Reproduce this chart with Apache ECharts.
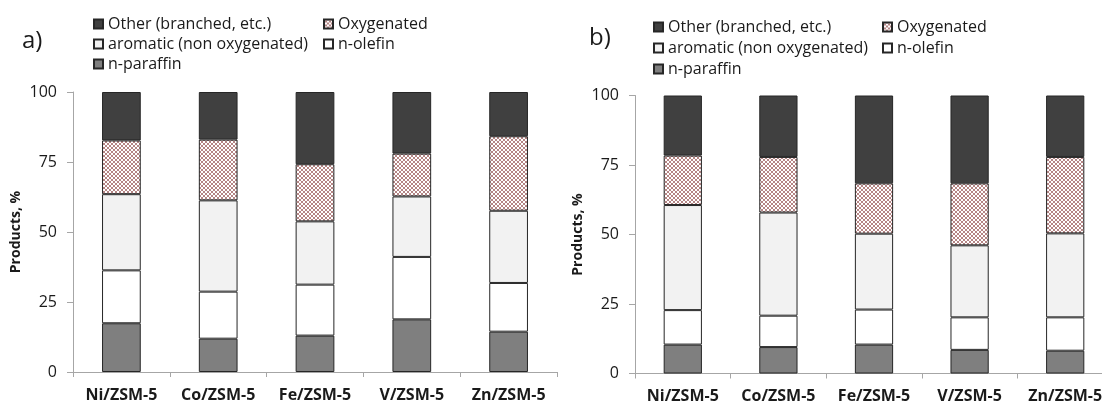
<!DOCTYPE html>
<html>
<head>
<meta charset="utf-8">
<script src="https://cdn.jsdelivr.net/npm/echarts@6/dist/echarts.min.js"></script>
<style>
html,body{margin:0;padding:0;background:#fff;overflow:hidden;width:1102px;height:403px;}
#chart{width:1130px;height:403px;}
</style>
</head>
<body>
<div id="chart"></div>
<script>
// ---- data ----
var categories = ['Ni/ZSM-5', 'Co/ZSM-5', 'Fe/ZSM-5', 'V/ZSM-5', 'Zn/ZSM-5'];
var yTicks = [0, 25, 50, 75, 100];
var seriesNames = ['n-paraffin', 'n-olefin', 'aromatic (non oxygenated)', 'Oxygenated', 'Other (branched, etc.)'];

// panel a)
var a_paraffin   = [17.4, 11.9, 13.0, 18.8, 14.4];
var a_olefin     = [18.9, 16.8, 18.2, 22.3, 17.4];
var a_aromatic   = [27.2, 32.6, 22.6, 21.6, 25.8];
var a_oxygenated = [19.2, 21.7, 20.4, 15.3, 26.6];
var a_other      = [17.3, 17.0, 25.8, 22.0, 15.8];

// panel b)
var b_paraffin   = [10.4, 9.5, 10.4, 8.5, 8.2];
var b_olefin     = [12.4, 11.3, 12.6, 11.7, 12.0];
var b_aromatic   = [37.8, 37.1, 27.3, 25.9, 30.2];
var b_oxygenated = [17.8, 20.0, 18.1, 22.3, 27.5];
var b_other      = [21.6, 22.1, 31.6, 31.6, 22.1];

// ---- crosshatch pattern ----
function makePattern() {
  var c = document.createElement('canvas');
  c.width = 4; c.height = 4;
  var ctx = c.getContext('2d');
  ctx.fillStyle = '#ffffff';
  ctx.fillRect(0, 0, 4, 4);
  ctx.fillStyle = '#b58585';
  var pts = [[0,0],[1,1],[2,2],[3,3],[3,0],[2,1],[1,2],[0,3]];
  pts.forEach(function (p) { ctx.fillRect(p[0], p[1], 1, 1); });
  return { image: c, repeat: 'repeat' };
}
var pattern = makePattern();

var fills = {
  'n-paraffin': '#7f7f7f',
  'n-olefin': '#ffffff',
  'aromatic (non oxygenated)': '#f2f2f2',
  'Oxygenated': pattern,
  'Other (branched, etc.)': '#404040'
};

var font = '"Open Sans", "DejaVu Sans", sans-serif';
var txt = '#1a1a1a';
var axisGrey = '#a6a6a6';

function mkSeries(panel, arrays) {
  return seriesNames.map(function (n, i) {
    return {
      name: n,
      type: 'bar',
      stack: 'p' + panel,
      xAxisIndex: panel,
      yAxisIndex: panel,
      barWidth: '40%',
      data: arrays[i],
      itemStyle: { color: fills[n], borderColor: '#262626', borderWidth: 1 },
      emphasis: { disabled: true }
    };
  });
}

function mkX(idx) {
  return {
    type: 'category',
    gridIndex: idx,
    data: categories,
    axisLine: { lineStyle: { color: axisGrey, width: 1 } },
    axisTick: { show: true, length: 5, lineStyle: { color: axisGrey } },
    axisLabel: { color: txt, fontFamily: font, fontSize: 16, fontWeight: 'bold', margin: 15,
      interval: 0, hideOverlap: false }
  };
}
function mkY(idx) {
  return {
    type: 'value',
    gridIndex: idx,
    min: 0, max: 100, interval: 25,
    name: 'Products, %',
    nameLocation: 'middle',
    nameGap: 50,
    nameTextStyle: { color: txt, fontFamily: font, fontSize: 14, fontWeight: 'bold' },
    axisLine: { show: true, lineStyle: { color: axisGrey, width: 1 } },
    axisTick: { show: true, length: 6, inside: false, lineStyle: { color: axisGrey } },
    splitLine: { show: false },
    axisLabel: { color: txt, fontFamily: font, fontSize: 16, margin: 16,
      formatter: function (v) { return yTicks.indexOf(v) >= 0 ? String(v) : ''; } }
  };
}

function mkLegend(left, top, gap, data) {
  return {
    orient: 'vertical',
    left: left, top: top,
    padding: 0,
    itemGap: gap,
    itemWidth: 9, itemHeight: 9,
    icon: 'rect',
    selectedMode: false,
    data: data,
    textStyle: { color: txt, fontFamily: font, fontSize: 16, lineHeight: 16 }
  };
}

var chart = echarts.init(document.getElementById('chart'), null, { renderer: 'canvas' });
chart.setOption({
  animation: false,
  backgroundColor: '#ffffff',
  title: [
    { text: 'a)', left: 22, top: 29, padding: 0, textStyle: { fontFamily: font, fontSize: 24, fontWeight: 'normal', color: txt } },
    { text: 'b)', left: 589, top: 26, padding: 0, textStyle: { fontFamily: font, fontSize: 24, fontWeight: 'normal', color: txt } }
  ],
  legend: [
    mkLegend(93, 16, 4, ['Other (branched, etc.)', 'aromatic (non oxygenated)', 'n-paraffin']),
    mkLegend(323, 16, 4, ['Oxygenated', 'n-olefin']),
    mkLegend(653, 19, 5, ['Other (branched, etc.)', 'aromatic (non oxygenated)', 'n-paraffin']),
    mkLegend(882, 19, 5, ['Oxygenated', 'n-olefin'])
  ],
  grid: [
    { left: 73, top: 92, width: 484, height: 280, outerBoundsMode: 'none' },
    { left: 635, top: 95.5, width: 478, height: 278, outerBoundsMode: 'none' }
  ],
  xAxis: [mkX(0), mkX(1)],
  yAxis: [mkY(0), mkY(1)],
  series: mkSeries(0, [a_paraffin, a_olefin, a_aromatic, a_oxygenated, a_other])
    .concat(mkSeries(1, [b_paraffin, b_olefin, b_aromatic, b_oxygenated, b_other]))
});
</script>
</body>
</html>
